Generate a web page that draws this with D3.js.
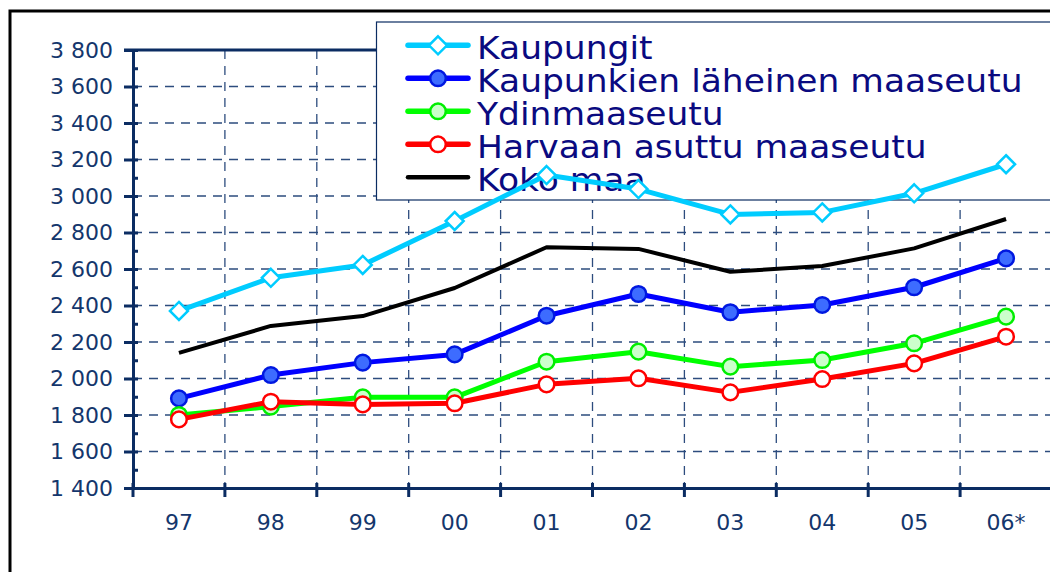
<!DOCTYPE html>
<html>
<head>
<meta charset="utf-8">
<script src="https://cdn.jsdelivr.net/npm/d3@7"></script>
<style>
  body { margin: 0; background: #fff; }
  svg { display: block; }
</style>
</head>
<body>
<div id="chart"></div>
<script>
// data
const years = ["97", "98", "99", "00", "01", "02", "03", "04", "05", "06*"];
const kaupungit = [2370, 2552, 2622, 2863, 3115, 3038, 2899, 2910, 3015, 3174];
const laheinen = [1891, 2019, 2087, 2132, 2344, 2463, 2363, 2403, 2500, 2658];
const ydin = [1800, 1846, 1897, 1897, 2092, 2147, 2065, 2101, 2193, 2339];
const harvaan = [1776, 1873, 1858, 1864, 1968, 2001, 1924, 1997, 2083, 2229];
const kokoMaa = [2140, 2288, 2342, 2496, 2719, 2710, 2585, 2616, 2713, 2874];
const yTicks = [1400, 1600, 1800, 2000, 2200, 2400, 2600, 2800, 3000, 3200, 3400, 3600, 3800];

const W = 1050, H = 572;
const plotL = 133, plotR = 1052, plotT = 50, plotB = 488;
const navy = "#0b2c62";

const svg = d3.select("#chart").append("svg")
  .attr("width", W).attr("height", H);

// outer frame
svg.append("path")
  .attr("d", `M10,${H + 5} L10,11 L${W + 5},11`)
  .attr("fill", "none").attr("stroke", "#000").attr("stroke-width", 3);

const x = d3.scaleBand().domain(years).range([plotL, plotR]);
const y = d3.scaleLinear().domain([1400, 3800]).range([plotB, plotT]);

// gridlines
svg.append("g").selectAll("line")
  .data(yTicks.slice(1, -1))
  .join("line")
    .attr("x1", plotL).attr("x2", plotR)
    .attr("y1", d => y(d)).attr("y2", d => y(d))
    .attr("stroke", "#2d4c7e").attr("stroke-width", 1.3)
    .attr("stroke-dasharray", "9,7");

svg.append("g").selectAll("line")
  .data(years.slice(1))
  .join("line")
    .attr("x1", d => x(d)).attr("x2", d => x(d))
    .attr("y1", plotT).attr("y2", plotB)
    .attr("stroke", "#2d4c7e").attr("stroke-width", 1.3)
    .attr("stroke-dasharray", "9,7");

// top border of plot area
svg.append("line")
  .attr("x1", plotL - 9).attr("x2", plotR)
  .attr("y1", plotT).attr("y2", plotT)
  .attr("stroke", navy).attr("stroke-width", 3);

// y axis
const fmt = d => d3.format(",")(d).replace(",", " ");
const yAxis = svg.append("g")
  .attr("transform", `translate(${plotL},0)`)
  .call(d3.axisLeft(y).tickValues(yTicks).tickSize(9).tickPadding(11).tickFormat(fmt));
yAxis.select(".domain").attr("stroke", navy).attr("stroke-width", 3);
yAxis.selectAll(".tick line").attr("stroke", navy).attr("stroke-width", 3);
yAxis.selectAll("text")
  .attr("fill", "#14366c")
  .style("font-family", "'DejaVu Sans', Verdana, sans-serif")
  .style("font-size", "22px");

// inner minor ticks
const minor = d3.range(1400, 3801, 100);
svg.append("g")
  .attr("transform", `translate(${plotL},0)`)
  .call(d3.axisRight(y).tickValues(minor).tickSize(5).tickFormat(""))
  .call(g => g.select(".domain").remove())
  .selectAll(".tick line").attr("stroke", navy).attr("stroke-width", 3);

// x axis
const xAxis = svg.append("g")
  .attr("transform", `translate(0,${plotB})`)
  .call(d3.axisBottom(x).tickSize(0).tickPadding(26).tickSizeOuter(0));
xAxis.select(".domain").attr("stroke", navy).attr("stroke-width", 3);
xAxis.selectAll("text")
  .attr("fill", "#14366c")
  .style("font-family", "'DejaVu Sans', Verdana, sans-serif")
  .style("font-size", "22px");

svg.append("g").selectAll("line")
  .data(years)
  .join("line")
    .attr("x1", d => x(d)).attr("x2", d => x(d))
    .attr("y1", plotB - 5).attr("y2", plotB + 9)
    .attr("stroke", navy).attr("stroke-width", 3);

// series
const series = [
  {name: "Kaupungit", values: kaupungit, color: "#00ccff", width: 5, marker: "diamond", fill: "#fff", mstroke: "#00ccff"},
  {name: "Kaupunkien läheinen maaseutu", values: laheinen, color: "#0000ff", width: 5, marker: "circle", fill: "#3d6cff", mstroke: "#0018e0"},
  {name: "Ydinmaaseutu", values: ydin, color: "#00ff00", width: 5, marker: "circle", fill: "#ccffcc", mstroke: "#00ee00"},
  {name: "Harvaan asuttu maaseutu", values: harvaan, color: "#ff0000", width: 5, marker: "circle", fill: "#fff", mstroke: "#ff0000"},
  {name: "Koko maa", values: kokoMaa, color: "#000000", width: 4, marker: null}
];

const cx = d => x(d) + x.bandwidth() / 2;
const line = d3.line().x(d => cx(d.year)).y(d => y(d.v));

function drawMarker(g, s, px, py) {
  if (s.marker === "diamond") {
    g.append("path")
      .attr("d", `M${px},${py - 9} L${px + 9},${py} L${px},${py + 9} L${px - 9},${py} Z`)
      .attr("fill", s.fill).attr("stroke", s.mstroke).attr("stroke-width", 2.5);
  } else if (s.marker === "circle") {
    g.append("circle")
      .attr("cx", px).attr("cy", py).attr("r", 7.8)
      .attr("fill", s.fill).attr("stroke", s.mstroke).attr("stroke-width", 2.5);
  }
}

// legend (sits under the series lines, over the grid)
const lg = svg.append("g");
lg.append("rect")
  .attr("x", 376.5).attr("y", 22).attr("width", 700).attr("height", 178)
  .attr("fill", "#fff").attr("stroke", navy).attr("stroke-width", 1.2);

series.forEach((s, i) => {
  const ry = 45.3 + i * 33;
  lg.append("line")
    .attr("x1", 408).attr("x2", 468)
    .attr("y1", ry).attr("y2", ry)
    .attr("stroke", s.color).attr("stroke-width", s.width + 0.5)
    .attr("stroke-linecap", "round");
  drawMarker(lg, s, 438, ry);
  lg.append("text")
    .attr("transform", `translate(477,${ry + 14}) scale(1.095,1)`)
    .attr("fill", "#0a0a80")
    .style("font-family", "'DejaVu Sans', Verdana, sans-serif")
    .style("font-size", "31.5px")
    .text(s.name);
});

// draw back to front: Koko maa, Kaupungit, blue, green, red
const order = [4, 0, 1, 2, 3];
order.forEach(i => {
  const s = series[i];
  const pts = years.map((yr, j) => ({year: yr, v: s.values[j]}));
  const g = svg.append("g");
  g.append("path")
    .datum(pts)
    .attr("d", line)
    .attr("fill", "none")
    .attr("stroke", s.color)
    .attr("stroke-width", s.width)
    .attr("stroke-linejoin", "round");
  pts.forEach(p => drawMarker(g, s, cx(p.year), y(p.v)));
});
</script>
</body>
</html>
